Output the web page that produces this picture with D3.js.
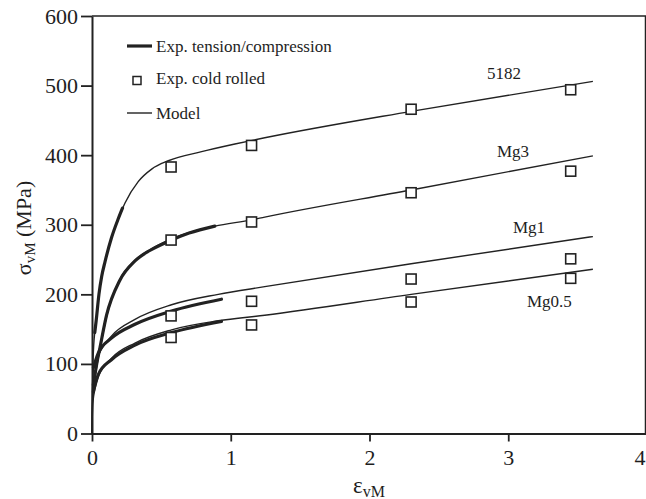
<!DOCTYPE html>
<html>
<head>
<meta charset="utf-8">
<script src="https://cdn.jsdelivr.net/npm/d3@7"></script>
<style>
  body { margin: 0; background: #fff; }
  svg text { font-family: "Liberation Serif", "Times New Roman", serif; fill: #1e1e1e; }
</style>
</head>
<body>
<svg id="chart"></svg>
<script>
const alloys = ["5182", "Mg3", "Mg1", "Mg0.5"];
const rolledStrain = [0.57, 1.15, 2.3, 3.45];
const rolledStress = {
    "5182": [383, 414, 466, 494],
    "Mg3": [278, 304, 346, 377],
    "Mg1": [169, 190, 222, 251],
    "Mg0.5": [138, 156, 189, 223]
};

const model5182 = [[0, 0], [0.003, 50], [0.01, 118], [0.03, 162], [0.05, 200], [0.07, 226], [0.094, 247], [0.14, 281], [0.19, 309], [0.237, 331], [0.333, 362], [0.43, 380], [0.55, 392], [0.79, 405], [1.03, 416], [1.245, 425], [2.3, 463], [3.61, 506]];
const modelMg3 = [[0, 0], [0.005, 50], [0.034, 96], [0.058, 122], [0.105, 168], [0.2, 221], [0.31, 249], [0.417, 264], [0.55, 278], [0.885, 298], [1.15, 307], [1.245, 311], [2.3, 350], [3.61, 399]];
const modelMg1 = [[0, 0], [0.003, 60], [0.01, 91], [0.046, 112], [0.14, 140], [0.31, 164], [0.573, 185], [0.91, 200], [1.245, 211], [2.3, 244], [3.61, 283]];
const modelMg05 = [[0, 0], [0.005, 43], [0.046, 82], [0.14, 108], [0.31, 130], [0.573, 149], [0.91, 162], [1.245, 170], [2.3, 200], [3.61, 236]];

const exp5182 = [[0.02, 145], [0.03, 162], [0.05, 200], [0.07, 226], [0.094, 247], [0.14, 281], [0.19, 309], [0.22, 324]];
const expMg3 = [[0.01, 70], [0.034, 100], [0.058, 124], [0.105, 170], [0.2, 220], [0.31, 248], [0.417, 263], [0.55, 276], [0.7, 288], [0.885, 298]];
const expMg1 = [[0.01, 95], [0.046, 116], [0.14, 137], [0.31, 157], [0.573, 176], [0.933, 193]];
const expMg05 = [[0.01, 60], [0.046, 85], [0.14, 106], [0.31, 127], [0.573, 145], [0.933, 161]];

const xTicks = [0, 1, 2, 3, 4];
const yTicks = [0, 100, 200, 300, 400, 500, 600];

const w = 646, h = 499;
const svg = d3.select("#chart").attr("width", w).attr("height", h);

const x = d3.scaleLinear().domain([0, 4]).range([92, 647]);
const y = d3.scaleLinear().domain([0, 600]).range([433.5, 16]);

// frame
svg.append("path")
    .attr("d", `M${x(0)},${y(600)}H${x(4) - 1.5}V${y(0)}`)
    .attr("fill", "none").attr("stroke", "#222").attr("stroke-width", 1.5);

const xAxis = svg.append("g")
    .attr("transform", `translate(0,${y(0)})`)
    .call(d3.axisBottom(x).tickValues(xTicks).tickFormat(d3.format("d"))
        .tickSize(8).tickPadding(8).tickSizeOuter(0));
const yAxis = svg.append("g")
    .attr("transform", `translate(${x(0)},0)`)
    .call(d3.axisLeft(y).tickValues(yTicks).tickFormat(d3.format("d"))
        .tickSize(11).tickPadding(3).tickSizeOuter(0));

[xAxis, yAxis].forEach(g => {
    g.select(".domain").attr("stroke", "#222").attr("stroke-width", 2);
    g.selectAll(".tick line").attr("stroke", "#222").attr("stroke-width", 1.8);
    g.selectAll(".tick text").attr("font-size", 22).attr("fill", "#1e1e1e")
        .style("font-family", "'Liberation Serif', serif");
});
// last x label sits against the right edge
xAxis.selectAll(".tick text").filter(d => d === 4).attr("text-anchor", "end").attr("dx", -2);

const line = d3.line().x(d => x(d[0])).y(d => y(d[1])).curve(d3.curveMonotoneX);

const models = [model5182, modelMg3, modelMg1, modelMg05];
const exps = [exp5182, expMg3, expMg1, expMg05];

svg.selectAll(".exp").data(exps).enter().append("path")
    .attr("class", "exp")
    .attr("d", line)
    .attr("fill", "none").attr("stroke", "#222").attr("stroke-width", 3.2)
    .attr("stroke-linecap", "round");

svg.selectAll(".model").data(models).enter().append("path")
    .attr("class", "model")
    .attr("d", line)
    .attr("fill", "none").attr("stroke", "#222").attr("stroke-width", 1.4);

// cold rolled squares
alloys.forEach(a => {
    svg.selectAll(null).data(rolledStrain.map((s, i) => [s, rolledStress[a][i]])).enter()
        .append("rect")
        .attr("x", d => x(d[0]) - 5).attr("y", d => y(d[1]) - 5)
        .attr("width", 10).attr("height", 10)
        .attr("fill", "#fff").attr("stroke", "#222").attr("stroke-width", 1.6);
});

// alloy labels
const labelAt = [[487, 79], [497, 157], [513, 233], [527, 307]];
svg.selectAll(".alloy").data(alloys).enter().append("text")
    .attr("class", "alloy")
    .attr("x", (d, i) => labelAt[i][0]).attr("y", (d, i) => labelAt[i][1])
    .attr("font-size", 17)
    .text(d => d);

// legend
const lg = svg.append("g");
lg.append("line").attr("x1", 127).attr("x2", 152).attr("y1", 46).attr("y2", 46)
    .attr("stroke", "#222").attr("stroke-width", 3.2);
lg.append("text").attr("x", 156).attr("y", 52).attr("font-size", 17).text("Exp. tension/compression");
lg.append("rect").attr("x", 133).attr("y", 76.5).attr("width", 8).attr("height", 8)
    .attr("fill", "#fff").attr("stroke", "#222").attr("stroke-width", 1.5);
lg.append("text").attr("x", 156).attr("y", 84).attr("font-size", 17).text("Exp. cold rolled");
lg.append("line").attr("x1", 127).attr("x2", 152).attr("y1", 113).attr("y2", 113)
    .attr("stroke", "#222").attr("stroke-width", 1.4);
lg.append("text").attr("x", 156).attr("y", 119).attr("font-size", 17).text("Model");

// axis titles
const yt = svg.append("text")
    .attr("transform", "translate(31,228) rotate(-90)")
    .attr("text-anchor", "middle").attr("font-size", 22);
yt.append("tspan").text("σ");
yt.append("tspan").attr("font-size", 15).attr("dy", 4).text("vM");
yt.append("tspan").attr("dy", -4).text(" (MPa)");

const xt = svg.append("text")
    .attr("x", 369).attr("y", 493)
    .attr("text-anchor", "middle").attr("font-size", 23);
xt.append("tspan").text("ε");
xt.append("tspan").attr("font-size", 16).attr("dy", 4).text("vM");
</script>
</body>
</html>
